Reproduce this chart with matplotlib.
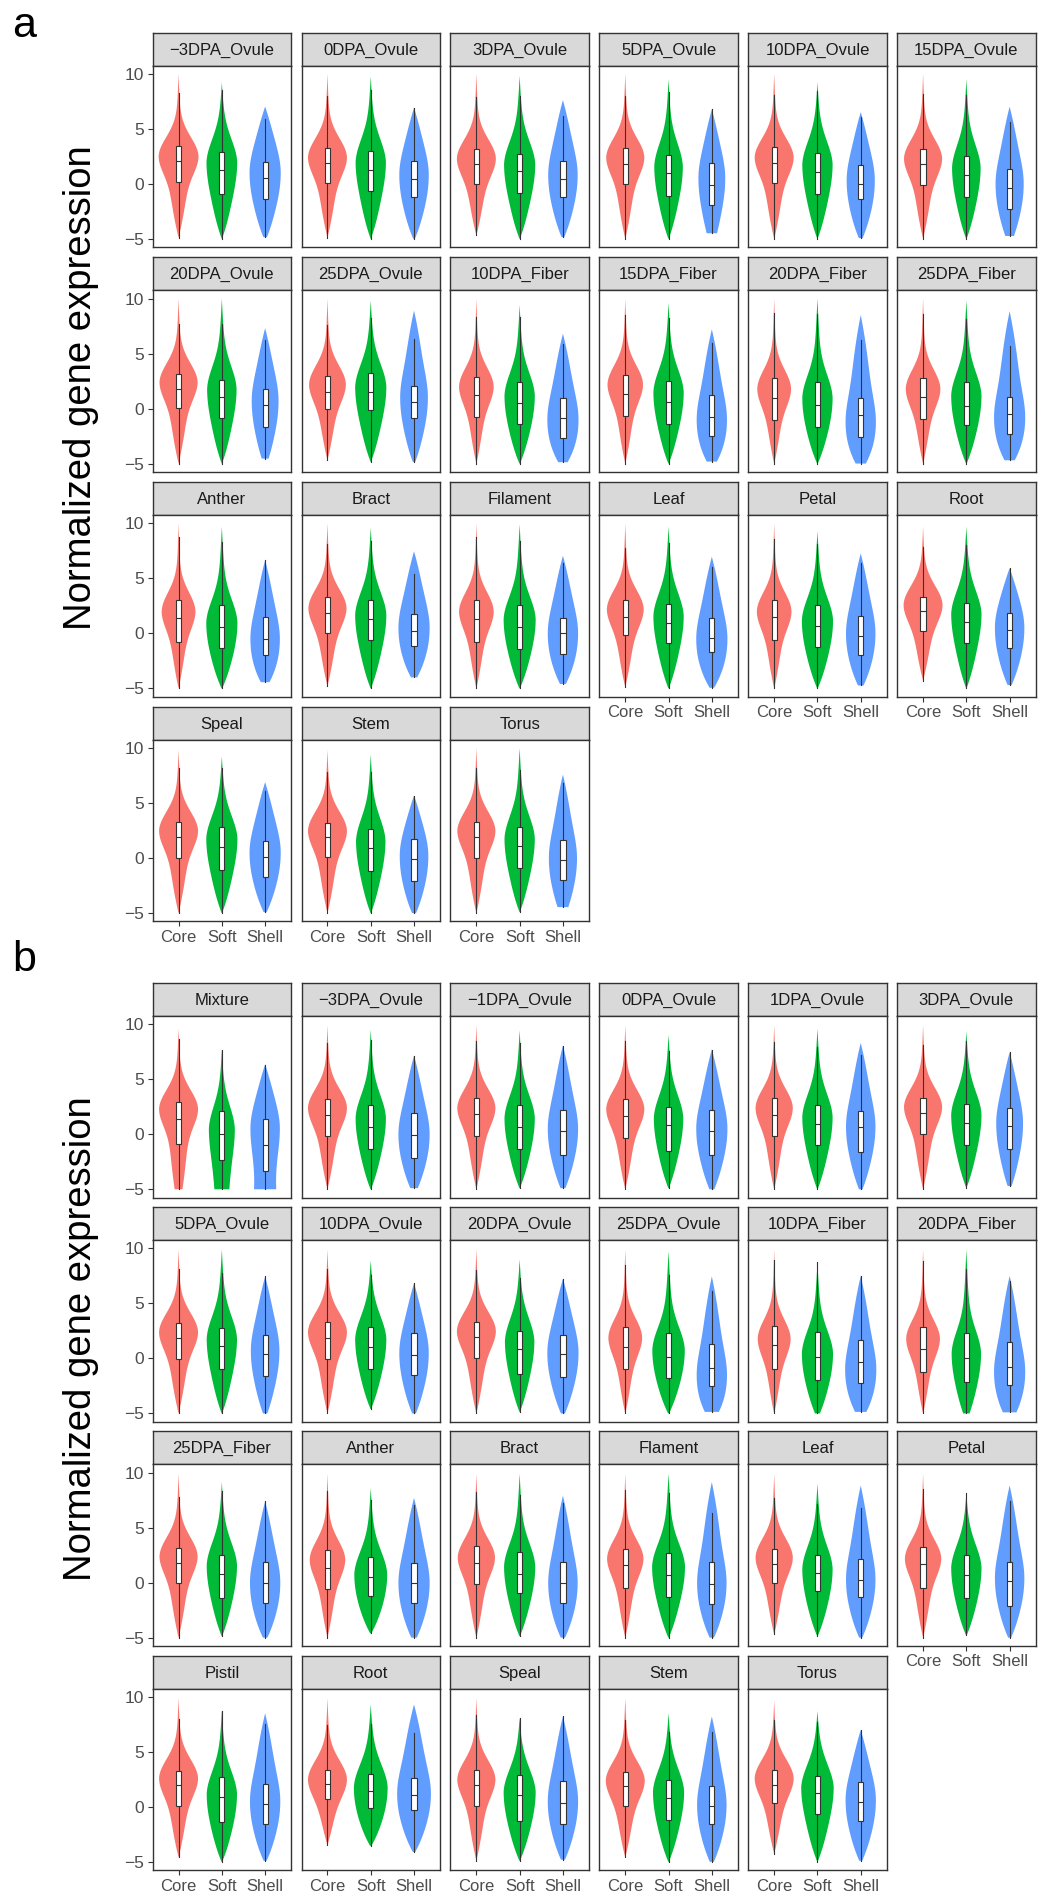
import numpy as np
import matplotlib
matplotlib.use("Agg")
import matplotlib.pyplot as plt

plt.rcParams['font.family'] = ['Liberation Sans', 'DejaVu Sans']

GROUPS = ["Core", "Soft", "Shell"]
COLORS = ["#F8766D", "#00BA38", "#619CFF"]

# each row: (min, q1, median, q3, upper whisker, violin top, density peak, violin width, bottom width)
A_PANELS = ["\u22123DPA_Ovule", "0DPA_Ovule", "3DPA_Ovule", "5DPA_Ovule", "10DPA_Ovule", "15DPA_Ovule",
            "20DPA_Ovule", "25DPA_Ovule", "10DPA_Fiber", "15DPA_Fiber", "20DPA_Fiber", "25DPA_Fiber",
            "Anther", "Bract", "Filament", "Leaf", "Petal", "Root",
            "Speal", "Stem", "Torus"]

A_CORE = [
    (-4.9, 0.15, 2.06, 3.39, 8.24, 10.0, 2.5, 0.92, 0),
    (-4.9, 0.06, 1.88, 3.27, 8.00, 10.0, 2.4, 0.90, 0),
    (-4.7, 0.00, 1.76, 3.18, 7.90, 10.0, 2.3, 0.90, 0),
    (-5.0, -0.06, 1.82, 3.24, 8.00, 10.0, 2.4, 0.88, 0),
    (-5.0, 0.06, 1.91, 3.33, 8.10, 10.0, 2.4, 0.90, 0),
    (-5.0, -0.15, 1.76, 3.18, 8.18, 10.0, 2.3, 0.88, 0),
    (-5.0, 0.03, 1.76, 3.12, 7.73, 10.0, 2.4, 0.88, 0),
    (-4.7, -0.06, 1.55, 2.97, 7.58, 10.0, 2.2, 0.85, 0),
    (-5.0, -0.73, 1.27, 2.88, 8.33, 10.0, 2.0, 0.80, 0),
    (-5.0, -0.64, 1.36, 3.03, 8.50, 10.0, 2.2, 0.82, 0),
    (-5.0, -1.06, 1.00, 2.82, 8.73, 10.0, 1.8, 0.78, 0),
    (-5.0, -0.97, 1.09, 2.82, 8.58, 10.0, 1.8, 0.80, 0),
    (-5.0, -0.76, 1.43, 3.07, 8.78, 10.0, 2.0, 0.78, 0),
    (-4.8, 0.06, 1.85, 3.31, 8.10, 10.0, 2.3, 0.88, 0),
    (-5.0, -0.76, 1.34, 3.00, 8.72, 10.0, 2.0, 0.80, 0),
    (-4.9, -0.15, 1.49, 3.00, 7.72, 10.0, 2.2, 0.85, 0),
    (-5.0, -0.58, 1.49, 3.04, 8.57, 10.0, 2.0, 0.80, 0),
    (-4.3, 0.21, 2.04, 3.31, 7.81, 9.7, 2.6, 0.90, 0),
    (-5.0, 0.03, 1.90, 3.30, 8.24, 9.85, 2.5, 0.90, 0),
    (-5.0, 0.12, 1.94, 3.20, 7.82, 9.85, 2.5, 0.90, 0),
    (-5.0, 0.03, 1.88, 3.30, 8.18, 10.0, 2.5, 0.88, 0),
]

A_SOFT = [
    (-5.0, -0.90, 1.27, 2.85, 8.50, 9.2, 2.0, 0.71, 0),
    (-5.0, -0.70, 1.27, 2.97, 8.50, 9.75, 2.0, 0.70, 0),
    (-5.0, -0.85, 1.12, 2.73, 7.94, 9.8, 1.8, 0.72, 0),
    (-5.0, -1.15, 0.97, 2.64, 8.30, 9.5, 1.6, 0.66, 0),
    (-5.0, -0.94, 1.06, 2.82, 8.40, 9.2, 1.8, 0.70, 0),
    (-5.0, -1.21, 0.76, 2.52, 8.10, 9.5, 1.5, 0.66, 0),
    (-5.0, -0.88, 1.06, 2.64, 7.73, 10.0, 1.8, 0.68, 0),
    (-4.85, -0.15, 1.55, 3.21, 8.20, 9.8, 2.0, 0.72, 0),
    (-5.0, -1.42, 0.48, 2.45, 8.33, 9.4, 1.2, 0.70, 0),
    (-5.0, -1.42, 0.60, 2.52, 8.27, 9.6, 1.5, 0.70, 0),
    (-5.0, -1.64, 0.33, 2.45, 8.58, 10.0, 1.0, 0.70, 0),
    (-5.0, -1.52, 0.24, 2.39, 8.12, 9.85, 1.2, 0.70, 0),
    (-5.0, -1.30, 0.60, 2.55, 8.27, 9.7, 1.0, 0.72, 0),
    (-5.0, -0.64, 1.28, 3.00, 8.36, 9.6, 1.7, 0.72, 0),
    (-5.0, -1.40, 0.58, 2.58, 8.36, 9.9, 1.3, 0.74, 0),
    (-5.0, -0.91, 0.94, 2.70, 8.18, 9.7, 1.6, 0.70, 0),
    (-5.0, -1.22, 0.67, 2.58, 8.10, 9.3, 1.2, 0.72, 0),
    (-5.0, -0.85, 1.03, 2.74, 8.00, 9.7, 1.8, 0.70, 0),
    (-5.0, -1.06, 0.97, 2.79, 8.18, 9.24, 1.8, 0.72, 0),
    (-5.0, -1.21, 0.91, 2.67, 7.82, 9.4, 1.6, 0.68, 0),
    (-4.9, -0.91, 1.06, 2.79, 8.03, 10.0, 1.8, 0.70, 0),
]

A_SHELL = [
    (-4.85, -1.36, 0.52, 1.97, 5.90, 7.0, 1.0, 0.72, 0.15),
    (-5.0, -1.21, 0.45, 2.06, 6.90, 6.9, 0.8, 0.68, 0.05),
    (-4.85, -1.21, 0.42, 2.03, 6.15, 7.6, 0.8, 0.68, 0.1),
    (-4.5, -1.94, -0.09, 1.91, 6.76, 6.76, 0.5, 0.62, 0.55),
    (-4.94, -1.42, 0.00, 1.73, 6.06, 6.5, 0.3, 0.65, 0.15),
    (-4.75, -2.27, -0.39, 1.36, 5.60, 7.0, 0.0, 0.65, 0.4),
    (-4.55, -1.64, 0.30, 1.82, 6.20, 7.3, 0.7, 0.62, 0.35),
    (-4.85, -0.90, 0.55, 2.06, 6.30, 8.9, 1.0, 0.64, 0.1),
    (-4.88, -2.64, -0.82, 1.00, 5.85, 6.8, -1.0, 0.72, 0.3),
    (-4.82, -2.48, -0.73, 1.24, 6.00, 7.2, -1.0, 0.70, 0.35),
    (-5.0, -2.55, -0.60, 1.00, 6.20, 8.5, -1.2, 0.70, 0.35),
    (-4.7, -2.33, -0.52, 1.06, 5.70, 8.85, -0.8, 0.72, 0.35),
    (-4.44, -1.98, -0.49, 1.49, 6.65, 6.65, -0.5, 0.68, 0.3),
    (-4.0, -1.19, 0.18, 1.79, 5.38, 7.45, 0.5, 0.72, 0.2),
    (-4.6, -1.85, 0.06, 1.43, 6.35, 7.05, 0.0, 0.70, 0.2),
    (-4.95, -1.70, -0.40, 1.43, 6.00, 6.96, -0.5, 0.72, 0.1),
    (-4.74, -1.98, -0.27, 1.58, 6.35, 7.26, 0.0, 0.68, 0.2),
    (-4.7, -1.37, 0.30, 1.85, 5.90, 5.9, 0.5, 0.68, 0.15),
    (-4.9, -1.67, 0.09, 1.60, 6.12, 6.9, 0.5, 0.72, 0.1),
    (-5.0, -2.06, -0.06, 1.76, 5.67, 5.67, 0.2, 0.66, 0.15),
    (-4.45, -2.03, -0.15, 1.67, 6.80, 7.6, 0.0, 0.65, 0.5),
]

B_PANELS = ["Mixture", "\u22123DPA_Ovule", "\u22121DPA_Ovule", "0DPA_Ovule", "1DPA_Ovule", "3DPA_Ovule",
            "5DPA_Ovule", "10DPA_Ovule", "20DPA_Ovule", "25DPA_Ovule", "10DPA_Fiber", "20DPA_Fiber",
            "25DPA_Fiber", "Anther", "Bract", "Flament", "Leaf", "Petal",
            "Pistil", "Root", "Speal", "Stem", "Torus"]

B_CORE = [
    (-5.0, -0.92, 1.35, 2.92, 8.68, 9.6, 2.3, 0.90, 0.4),
    (-5.0, -0.15, 1.75, 3.23, 8.28, 9.9, 2.4, 0.90, 0),
    (-5.0, -0.18, 1.82, 3.29, 8.52, 9.9, 2.4, 0.88, 0),
    (-5.0, -0.34, 1.69, 3.20, 8.52, 9.9, 2.3, 0.88, 0),
    (-5.0, -0.18, 1.75, 3.29, 8.43, 9.9, 2.4, 0.86, 0),
    (-5.0, 0.00, 1.91, 3.29, 8.12, 9.9, 2.5, 0.88, 0),
    (-5.0, -0.03, 1.82, 3.23, 8.12, 9.9, 2.4, 0.90, 0),
    (-5.0, -0.03, 1.82, 3.29, 8.15, 9.9, 2.4, 0.90, 0),
    (-5.0, 0.00, 1.91, 3.29, 8.06, 9.9, 2.5, 0.90, 0),
    (-5.0, -0.92, 1.08, 2.83, 8.52, 9.9, 1.9, 0.78, 0),
    (-5.0, -0.95, 1.20, 2.98, 8.92, 9.9, 1.8, 0.76, 0),
    (-5.0, -1.23, 0.89, 2.83, 8.83, 9.9, 1.8, 0.78, 0),
    (-5.0, -0.03, 1.75, 3.14, 7.80, 9.9, 2.4, 0.88, 0),
    (-5.0, -0.62, 1.35, 2.98, 8.37, 9.9, 2.1, 0.82, 0),
    (-5.0, -0.09, 1.75, 3.29, 8.22, 9.9, 2.3, 0.86, 0),
    (-5.0, -0.49, 1.60, 3.08, 8.43, 9.9, 2.2, 0.84, 0),
    (-4.7, -0.03, 1.66, 3.08, 7.70, 9.9, 2.3, 0.86, 0),
    (-5.0, -0.46, 1.66, 3.20, 8.52, 9.9, 2.2, 0.84, 0),
    (-4.6, 0.12, 2.00, 3.29, 8.00, 9.9, 2.6, 0.90, 0),
    (-3.5, 0.68, 2.12, 3.35, 7.45, 9.9, 2.5, 0.90, 0),
    (-4.9, 0.06, 2.00, 3.35, 8.37, 9.9, 2.5, 0.88, 0),
    (-4.6, 0.06, 1.91, 3.20, 7.90, 9.9, 2.4, 0.90, 0),
    (-4.25, 0.31, 2.00, 3.35, 7.90, 9.66, 2.6, 0.90, 0),
]

B_SOFT = [
    (-5.0, -2.34, 0.06, 2.15, 7.70, 7.7, 0.5, 0.60, 0.9),
    (-5.0, -1.32, 0.68, 2.68, 8.58, 9.5, 1.5, 0.70, 0),
    (-4.9, -1.38, 0.68, 2.62, 8.30, 9.45, 1.5, 0.70, 0),
    (-4.9, -1.54, 0.83, 2.52, 7.60, 9.05, 1.5, 0.68, 0),
    (-5.0, -1.02, 0.92, 2.68, 7.97, 9.6, 1.6, 0.70, 0),
    (-4.86, -1.02, 0.98, 2.74, 8.52, 9.35, 1.8, 0.70, 0),
    (-5.0, -0.95, 1.14, 2.77, 7.80, 9.9, 1.8, 0.70, 0),
    (-4.6, -0.95, 1.08, 2.83, 7.60, 8.9, 1.8, 0.72, 0),
    (-4.86, -1.38, 0.89, 2.52, 7.29, 9.0, 1.6, 0.68, 0),
    (-5.0, -1.78, 0.12, 2.28, 7.60, 9.75, 0.8, 0.75, 0),
    (-5.0, -2.00, 0.15, 2.43, 8.74, 8.74, 0.5, 0.72, 0.2),
    (-5.0, -2.18, 0.00, 2.28, 8.15, 9.9, 0.5, 0.68, 0.3),
    (-4.86, -1.38, 0.77, 2.52, 8.30, 9.15, 1.6, 0.70, 0),
    (-4.6, -1.17, 0.49, 2.37, 7.50, 8.6, 0.8, 0.76, 0),
    (-4.86, -0.92, 0.83, 2.77, 7.97, 9.9, 1.5, 0.72, 0),
    (-5.0, -1.32, 0.68, 2.68, 8.12, 9.9, 1.5, 0.76, 0),
    (-4.86, -0.80, 0.92, 2.52, 7.14, 9.0, 1.3, 0.70, 0),
    (-4.8, -1.38, 0.68, 2.52, 8.15, 8.15, 1.4, 0.70, 0),
    (-5.0, -1.38, 0.89, 2.74, 8.74, 8.74, 1.2, 0.70, 0),
    (-3.54, -0.09, 1.45, 2.98, 7.54, 9.3, 1.8, 0.78, 0),
    (-4.9, -1.26, 1.08, 2.92, 8.06, 8.06, 1.4, 0.74, 0),
    (-5.0, -1.17, 0.83, 2.46, 6.83, 8.5, 1.4, 0.72, 0),
    (-5.0, -0.65, 1.29, 2.83, 7.75, 8.68, 1.8, 0.75, 0),
]

B_SHELL = [
    (-5.0, -3.38, -0.95, 1.35, 6.34, 6.34, 0.5, 0.68, 1.2),
    (-4.9, -2.15, -0.03, 1.90, 7.14, 7.14, 0.0, 0.72, 0.3),
    (-4.9, -1.85, 0.31, 2.22, 8.06, 8.06, 0.5, 0.70, 0.2),
    (-5.0, -1.88, 0.31, 2.22, 7.70, 7.7, 0.5, 0.72, 0.2),
    (-5.0, -1.57, 0.62, 2.15, 7.20, 8.3, 0.7, 0.68, 0.15),
    (-4.7, -1.32, 0.77, 2.37, 7.45, 7.45, 1.0, 0.62, 0.2),
    (-5.0, -1.57, 0.43, 2.15, 7.45, 7.45, 0.7, 0.66, 0.2),
    (-5.0, -1.48, 0.31, 2.28, 6.83, 6.83, 0.5, 0.68, 0.15),
    (-5.0, -1.69, 0.37, 2.12, 7.23, 7.23, 0.5, 0.72, 0.15),
    (-4.86, -2.55, -0.86, 1.29, 6.15, 7.45, -1.5, 0.70, 0.5),
    (-4.86, -2.25, -0.34, 1.66, 7.50, 7.5, -1.0, 0.72, 0.4),
    (-4.9, -2.40, -0.80, 1.45, 7.05, 7.5, -1.2, 0.72, 0.5),
    (-5.0, -1.85, 0.00, 1.85, 7.38, 7.38, 0.0, 0.70, 0.15),
    (-5.0, -1.85, -0.03, 1.75, 7.08, 7.7, 0.0, 0.72, 0.2),
    (-5.0, -1.85, 0.00, 1.90, 7.23, 7.9, 0.0, 0.68, 0.15),
    (-5.0, -1.94, -0.09, 1.85, 6.37, 9.14, 0.0, 0.68, 0.15),
    (-5.0, -1.32, 0.28, 2.15, 6.77, 8.83, 0.3, 0.68, 0.1),
    (-5.0, -2.09, 0.15, 1.85, 7.38, 8.83, 0.4, 0.68, 0.1),
    (-4.9, -1.57, 0.28, 2.06, 7.50, 8.5, 0.5, 0.70, 0.1),
    (-4.1, -0.31, 1.08, 2.58, 6.68, 9.3, 1.2, 0.78, 0.05),
    (-4.8, -1.57, 0.37, 2.37, 8.22, 8.22, 0.5, 0.70, 0.15),
    (-5.0, -1.57, 0.12, 1.90, 6.83, 8.2, 0.2, 0.68, 0.15),
    (-4.9, -1.26, 0.43, 2.22, 6.98, 6.98, 0.6, 0.70, 0.1),
]

# outline shape per group: (gauss weight, gauss scale, taper power) above / below the peak
SHAPE = {
    "Core": {"up": (0.85, 1.7, 1.0), "dn": (0.5, 1.5, 2.0)},
    "Soft": {"up": (0.7, 2.0, 1.0), "dn": (0.4, 2.5, 3.0)},
    "Shell": {"up": (0.3, 2.0, 2.0), "dn": (0.4, 2.5, 3.0)},
}

W, H = 1038, 1896
fig = plt.figure(figsize=(W / 100, H / 100), dpi=100)


def rect(x, y, w, h):
    return [x / W, 1 - (y + h) / H, w / W, h / H]


def half(d, span, a, s, q, foot=0.0):
    t = np.clip(d / span, 0, 1)
    return a * np.exp(-0.5 * (d / s) ** 2) + (1 - a) * (1 - (1 - foot) * t ** q)


def outline(row, group):
    lo, q1, med, q3, whi, top, peak, width, foot = row
    y = np.linspace(lo, top, 300)
    up = half(np.clip(y - peak, 0, None), max(top - peak, 1e-6), *SHAPE[group]["up"])
    dn = half(np.clip(peak - y, 0, None), max(peak - lo, 1e-6), *SHAPE[group]["dn"], foot=foot)
    w = np.where(y >= peak, up, dn)
    return y, np.clip(w, 1e-4, None)


def draw_panel(x, y, name, rows, show_x, show_y):
    strip = fig.add_axes(rect(x, y, 138.5, 33))
    strip.set_facecolor("#D9D9D9")
    strip.set_xticks([])
    strip.set_yticks([])
    for sp in strip.spines.values():
        sp.set_color("#333333")
        sp.set_linewidth(1.0)
    strip.text(0.5, 0.47, name, ha="center", va="center", fontsize=12,
               color="#1A1A1A", transform=strip.transAxes)

    ax = fig.add_axes(rect(x, y + 33, 138.5, 181.5))
    stats = []
    for row, g in zip(rows, GROUPS):
        cy, cv = outline(row, g)
        stats.append(dict(coords=cy, vals=cv, mean=row[2], median=row[2],
                          min=row[0], max=row[5]))
    parts = ax.violin(stats, positions=[1, 2, 3], widths=[r[7] for r in rows],
                      showmeans=False, showextrema=False, showmedians=False)
    for body, c in zip(parts["bodies"], COLORS):
        body.set_facecolor(c)
        body.set_edgecolor("none")
        body.set_alpha(1)

    boxes = [dict(whislo=r[0], q1=r[1], med=r[2], q3=r[3], whishi=r[4], fliers=[])
             for r in rows]
    ax.bxp(boxes, positions=[1, 2, 3], widths=0.12, showcaps=False, showfliers=False,
           patch_artist=True, manage_ticks=False,
           boxprops=dict(facecolor="white", edgecolor="#333333", linewidth=0.8),
           medianprops=dict(color="#333333", linewidth=0.8),
           whiskerprops=dict(color="#333333", linewidth=0.8))

    ax.set_xlim(0.4, 3.6)
    ax.set_ylim(-5.75, 10.75)
    ax.set_yticks([-5, 0, 5, 10])
    ax.tick_params(length=3.6, width=0.8, color="#333333", labelcolor="#4D4D4D", pad=2.5)
    ax.tick_params(axis="y", labelsize=12.5)
    ax.tick_params(axis="x", labelsize=12)
    if show_y:
        ax.set_yticklabels(["\u22125", "0", "5", "10"])
    else:
        ax.tick_params(axis="y", length=0, labelleft=False)
    if show_x:
        ax.set_xticks([1, 2, 3])
        ax.set_xticklabels(GROUPS)
    else:
        ax.set_xticks([])
    for sp in ax.spines.values():
        sp.set_color("#333333")
        sp.set_linewidth(1.0)


def draw_block(top, pitch, names, core, soft, shell):
    n = len(names)
    for i, name in enumerate(names):
        r, c = divmod(i, 6)
        draw_panel(152.6 + 148.9 * c, top + pitch * r, name,
                   [core[i], soft[i], shell[i]], i + 6 >= n, c == 0)


draw_block(32.5, 224.8, A_PANELS, A_CORE, A_SOFT, A_SHELL)
draw_block(983.0, 224.2, B_PANELS, B_CORE, B_SOFT, B_SHELL)

fig.text(12 / W, 1 - 37 / H, "a", fontsize=31, ha="left", va="baseline")
fig.text(12 / W, 1 - 971 / H, "b", fontsize=31, ha="left", va="baseline")
fig.text(81 / W, 1 - 388 / H, "Normalized gene expression", rotation=90,
         fontsize=27.5, ha="center", va="center")
fig.text(81 / W, 1 - 1339 / H, "Normalized gene expression", rotation=90,
         fontsize=27.5, ha="center", va="center")

fig.savefig("out.png", dpi=100)
